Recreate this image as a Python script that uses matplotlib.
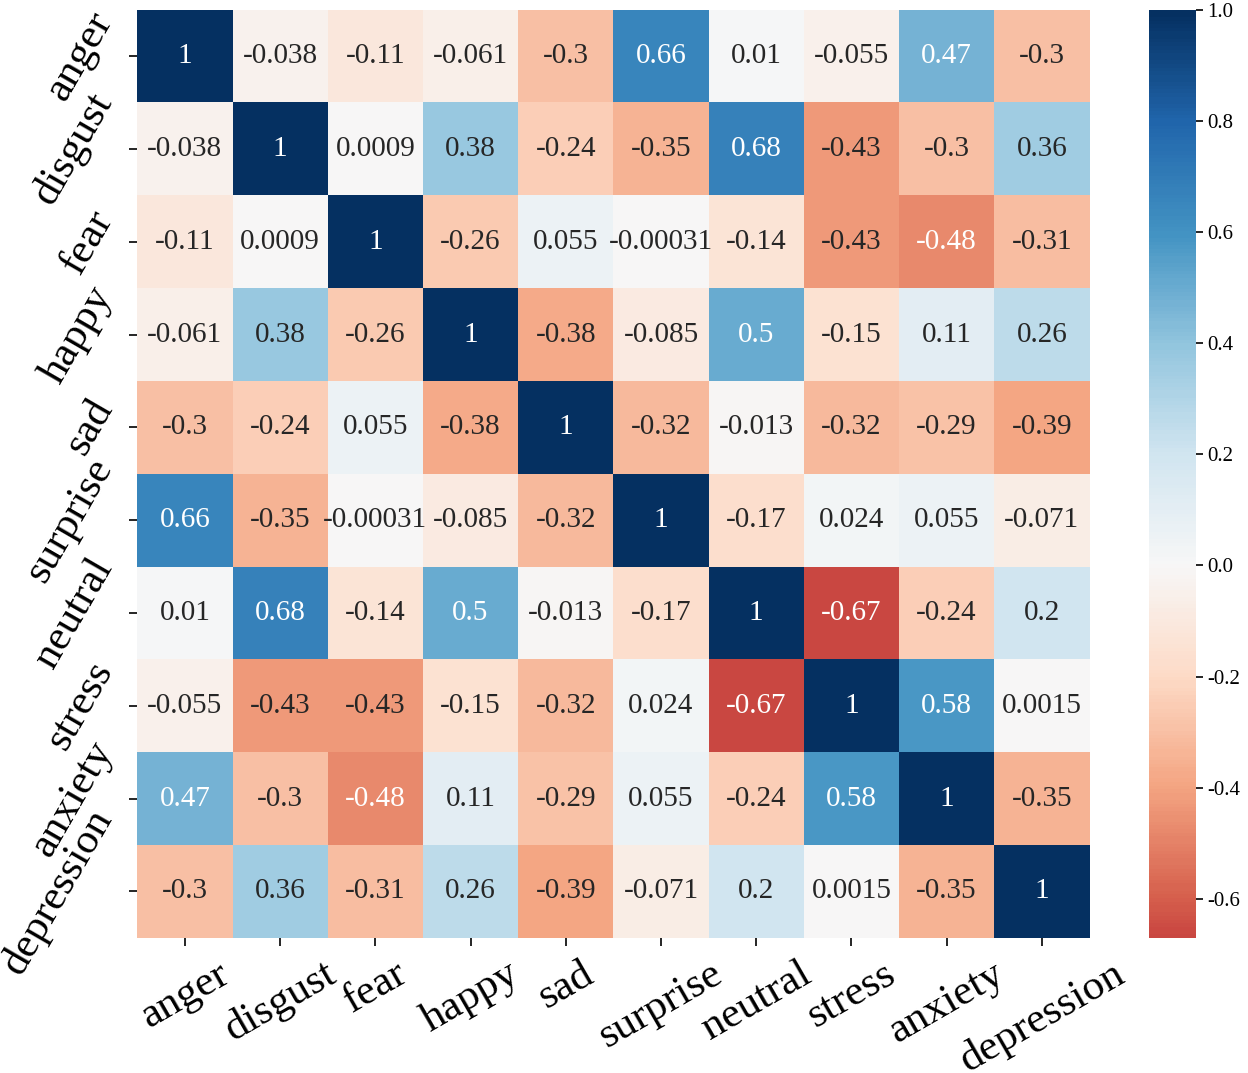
import matplotlib
matplotlib.use("Agg")
import matplotlib.pyplot as plt
import numpy as np
import seaborn as sns

plt.rcParams["font.family"] = ["Liberation Serif", "DejaVu Serif"]

labels = ["anger", "disgust", "fear", "happy", "sad", "surprise",
          "neutral", "stress", "anxiety", "depression"]

corr = [
    [1, -0.038, -0.11, -0.061, -0.3, 0.66, 0.01, -0.055, 0.47, -0.3],
    [-0.038, 1, 0.0009, 0.38, -0.24, -0.35, 0.68, -0.43, -0.3, 0.36],
    [-0.11, 0.0009, 1, -0.26, 0.055, -0.00031, -0.14, -0.43, -0.48, -0.31],
    [-0.061, 0.38, -0.26, 1, -0.38, -0.085, 0.5, -0.15, 0.11, 0.26],
    [-0.3, -0.24, 0.055, -0.38, 1, -0.32, -0.013, -0.32, -0.29, -0.39],
    [0.66, -0.35, -0.00031, -0.085, -0.32, 1, -0.17, 0.024, 0.055, -0.071],
    [0.01, 0.68, -0.14, 0.5, -0.013, -0.17, 1, -0.67, -0.24, 0.2],
    [-0.055, -0.43, -0.43, -0.15, -0.32, 0.024, -0.67, 1, 0.58, 0.0015],
    [0.47, -0.3, -0.48, 0.11, -0.29, 0.055, -0.24, 0.58, 1, -0.35],
    [-0.3, 0.36, -0.31, 0.26, -0.39, -0.071, 0.2, 0.0015, -0.35, 1],
]
cbar_ticks = [1.0, 0.8, 0.6, 0.4, 0.2, 0.0, -0.2, -0.4, -0.6]

fig = plt.figure(figsize=(12.48, 10.73), dpi=100)
ax = fig.add_axes([0.110, 0.126, 0.763, 0.865])
cax = fig.add_axes([0.921, 0.126, 0.037, 0.865])

sns.heatmap(np.array(corr), annot=True, fmt=".2g", cmap="RdBu", center=0,
            ax=ax, cbar_ax=cax, annot_kws={"fontsize": 21},
            xticklabels=labels, yticklabels=labels)

ax.set_xticklabels(labels, rotation=30, fontsize=31)
ax.set_yticklabels(labels, rotation=60, fontsize=31, va="center")
ax.tick_params(axis="both", length=6, width=1.2, pad=6)

cax.set_yticks(cbar_ticks)
cax.set_yticklabels([f"{t:.1f}" for t in cbar_ticks], fontsize=15)
cax.tick_params(length=5, width=1.2)

fig.savefig("out.png", dpi=100)
